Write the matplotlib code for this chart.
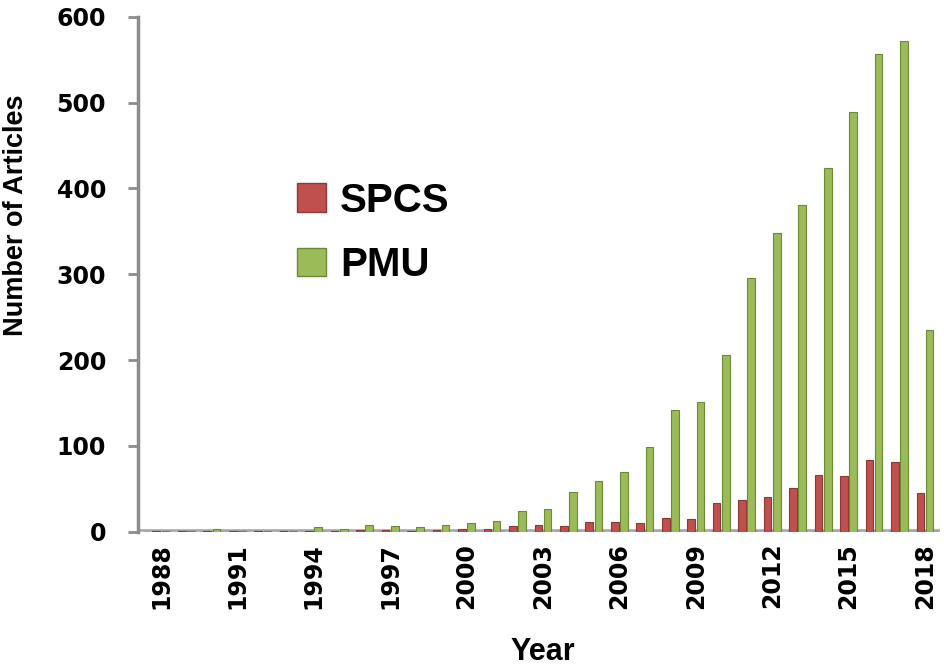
import numpy as np
import matplotlib.pyplot as plt
from matplotlib.patches import Patch

# ---- data ----
years = np.arange(1988, 2019)
spcs = [1, 1, 1, 1, 1, 1, 1, 1, 2, 2, 1, 2, 3, 3,
        7, 8, 7, 11, 11, 10, 16, 15, 34, 37, 40, 51, 66, 65, 84, 81, 45]
pmu = [1, 1, 3, 1, 1, 1, 6, 3, 8, 7, 5, 8, 10, 13,
       24, 27, 46, 59, 70, 99, 142, 151, 206, 296, 348, 381, 424, 489, 557, 572, 235]
tick_years = years[::3]

red, red_edge = '#c0504d', '#8c3836'
green, green_edge = '#9bbb59', '#6b8a35'

fig = plt.figure(figsize=(9.45, 6.68), dpi=100)
ax = fig.add_axes([0.146, 0.204, 0.849, 0.771])

w = 0.3
ax.bar(years - 0.18, spcs, width=w, color=red, edgecolor=red_edge, linewidth=0.8)
ax.bar(years + 0.18, pmu, width=w, color=green, edgecolor=green_edge, linewidth=0.8)

# 3D-ish floor of the Excel chart
ax.axhline(0, color='#a6a6a6', lw=4, zorder=0.5)
ax.axhline(0, color='white', lw=1, ls=(0, (4, 4)), zorder=0.6)

ax.set_xlim(1987.1, 2018.6)
ax.set_ylim(0, 600)
ax.set_yticks(range(0, 601, 100))
ax.set_xticks(tick_years)
ax.set_xticklabels([str(y) for y in tick_years], rotation=90)

for s in ['top', 'right', 'bottom']:
    ax.spines[s].set_visible(False)
ax.spines['left'].set_color('#8c8c8c')
ax.spines['left'].set_linewidth(2.5)

ax.tick_params(axis='y', length=7, width=2, color='#8c8c8c', pad=16,
               labelsize=17)
ax.tick_params(axis='x', length=0, pad=8, labelsize=17)
for lab in ax.get_xticklabels() + ax.get_yticklabels():
    lab.set_fontweight('bold')

ax.set_ylabel('Number of Articles', fontsize=19.5, fontweight='bold',
              family='Liberation Sans')
ax.yaxis.set_label_coords(-0.136, 0.615)
ax.set_xlabel('Year', fontsize=22, fontweight='bold', family='Liberation Sans')
ax.xaxis.set_label_coords(0.505, -0.205)

handles = [Patch(facecolor=red, edgecolor=red_edge),
           Patch(facecolor=green, edgecolor=green_edge)]
ax.legend(handles, ['SPCS', 'PMU'], loc='upper left',
          bbox_to_anchor=(0.293, 0.758), bbox_transform=fig.transFigure,
          frameon=False, borderpad=0, handlelength=0.72, handleheight=0.72,
          handletextpad=0.35, labelspacing=0.65,
          prop={'family': 'Liberation Sans', 'weight': 'bold', 'size': 29})

fig.savefig('out.png', dpi=100)
